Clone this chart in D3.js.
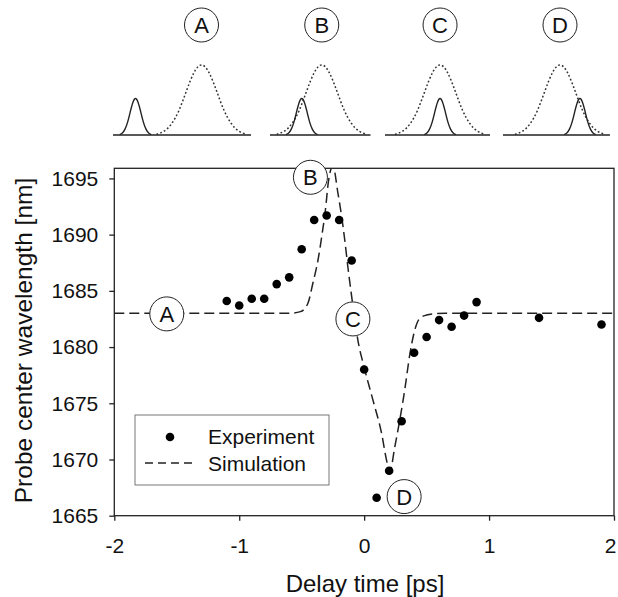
<!DOCTYPE html>
<html>
<head>
<meta charset="utf-8">
<script src="https://cdn.jsdelivr.net/npm/d3@7/dist/d3.min.js"></script>
<style>
  body { margin: 0; background: #fff; }
  text { font-family: Arial, "Liberation Sans", sans-serif; fill: #111; }
</style>
</head>
<body>
<div id="chart"></div>
<script>
// Experiment: probe centre wavelength vs delay
const expDelay = [-1.1, -1.0, -0.9, -0.8, -0.7, -0.6, -0.5, -0.4, -0.3, -0.2, -0.1,
  0.0, 0.1, 0.2, 0.3, 0.4, 0.5, 0.6, 0.7, 0.8, 0.9, 1.4, 1.9];
const expWavelength = [1684.1, 1683.7, 1684.3, 1684.3, 1685.6, 1686.2, 1688.7, 1691.3, 1691.7, 1691.3, 1687.7,
  1678.0, 1666.6, 1669.0, 1673.4, 1679.5, 1680.9, 1682.4, 1681.8, 1682.8, 1684.0, 1682.6, 1682.0];

// Simulation curve
const simDelay = [-2.0, -0.6, -0.51, -0.45, -0.41, -0.37, -0.34, -0.31, -0.285, -0.25, -0.21, -0.18,
  -0.155, -0.13, -0.10, -0.05, 0.0, 0.07, 0.14, 0.18, 0.205, 0.245, 0.285, 0.325, 0.365, 0.405,
  0.445, 0.5, 0.55, 0.65, 2.0];
const simWavelength = [1683.0, 1683.0, 1683.15, 1683.9, 1685.7, 1687.7, 1689.8, 1692.2, 1694.8, 1696.1, 1693.7, 1691.6,
  1689.5, 1687.1, 1684.5, 1680.6, 1678.2, 1675.3, 1672.3, 1669.9, 1668.9, 1671.1, 1673.5, 1676.2, 1679.3, 1681.5,
  1682.55, 1682.85, 1682.95, 1683.0, 1683.0];

// Circled markers on the curve
const markerLabels = ["A", "B", "C", "D"];
const markerDelay = [-1.58, -0.43, -0.09, 0.32];
const markerWavelength = [1682.95, 1695.1, 1682.5, 1666.7];

const xTicks = [-2, -1, 0, 1, 2];
const yTicks = [1665, 1670, 1675, 1680, 1685, 1690, 1695];

// Insets: probe (solid) position relative to pump (dotted), in pump widths
const probeOffset = [-4.4, -1.33, 0, 1.33];
const insetStart = [-5.9, -3.45, -3.67, -3.8];
const insetEnd = [3.3, 3.25, 3.33, 3.33];
// pulse shape as drawn (offset in widths, relative height)
const pulseOffset = [-3, -2.5, -2, -1.5, -1, -0.5, 0, 0.5, 1, 1.5, 2, 2.5, 3];
const pulseHeight = [0.01, 0.04, 0.14, 0.32, 0.61, 0.88, 1, 0.88, 0.61, 0.32, 0.14, 0.04, 0.01];

const W = 618, H = 597;
const svg = d3.select("#chart").append("svg").attr("width", W).attr("height", H);

// ---------- main plot ----------
const plot = { left: 114.3, right: 614, top: 168.3, bottom: 515.7 };
const x = d3.scaleLinear().domain([-2, 2]).range([plot.left, plot.right]);
const y = d3.scaleLinear().domain([1665, 1695.9]).range([plot.bottom, plot.top]);

svg.append("defs").append("clipPath").attr("id", "clip")
  .append("rect")
  .attr("x", plot.left).attr("y", plot.top)
  .attr("width", plot.right - plot.left).attr("height", plot.bottom - plot.top);

// frame
svg.append("rect")
  .attr("x", plot.left).attr("y", plot.top)
  .attr("width", plot.right - plot.left).attr("height", plot.bottom - plot.top)
  .attr("fill", "none").attr("stroke", "#222").attr("stroke-width", 1.3);

const xAxis = svg.append("g")
  .attr("transform", `translate(0,${plot.bottom})`)
  .call(d3.axisBottom(x).tickValues(xTicks).tickSize(5).tickPadding(17).tickFormat(d3.format("d")));
const yAxis = svg.append("g")
  .attr("transform", `translate(${plot.left},0)`)
  .call(d3.axisLeft(y).tickValues(yTicks).tickSize(5).tickPadding(11).tickFormat(d3.format("d")));
[xAxis, yAxis].forEach(g => {
  g.select(".domain").remove();
  g.selectAll("line").attr("stroke", "#222").attr("stroke-width", 1.3);
  g.selectAll("text").style("font-size", "21px").attr("fill", "#111");
});
xAxis.selectAll("text").text(d => d < 0 ? "-" + Math.abs(d) : d);
// last label sits on the page edge; nudge it in so it stays whole
xAxis.selectAll("text").filter(d => d === 2).attr("dx", -4);

svg.append("text")
  .attr("x", 365).attr("y", 592)
  .attr("text-anchor", "middle")
  .style("font-size", "24px")
  .text("Delay time [ps]");
svg.append("text")
  .attr("transform", "translate(32,340.5) rotate(-90)")
  .attr("text-anchor", "middle")
  .style("font-size", "24.5px")
  .text("Probe center wavelength [nm]");

// simulation
const simLine = d3.line().x(d => x(d[0])).y(d => y(d[1])).curve(d3.curveMonotoneX);
svg.append("path")
  .datum(d3.zip(simDelay, simWavelength))
  .attr("clip-path", "url(#clip)")
  .attr("fill", "none").attr("stroke", "#222")
  .attr("stroke-width", 1.5).attr("stroke-dasharray", "10,5")
  .attr("d", simLine);

// experiment
svg.append("g").selectAll("circle")
  .data(d3.zip(expDelay, expWavelength))
  .join("circle")
  .attr("cx", d => x(d[0])).attr("cy", d => y(d[1]))
  .attr("r", 4.3).attr("fill", "#000");

// circled markers
const markers = svg.append("g").selectAll("g")
  .data(markerLabels.map((l, i) => ({ label: l, t: markerDelay[i], w: markerWavelength[i] })))
  .join("g")
  .attr("transform", d => `translate(${x(d.t)},${y(d.w)})`);
markers.append("circle").attr("r", 17).attr("fill", "#fff").attr("stroke", "#222").attr("stroke-width", 1);
markers.append("text").attr("text-anchor", "middle").attr("dy", "0.36em")
  .style("font-size", "22px").text(d => d.label);

// legend
const legend = svg.append("g").attr("transform", "translate(135,415)");
legend.append("rect").attr("width", 194).attr("height", 70)
  .attr("fill", "#fff").attr("stroke", "#777").attr("stroke-width", 1);
legend.append("circle").attr("cx", 35).attr("cy", 22).attr("r", 4.3).attr("fill", "#000");
legend.append("text").attr("x", 73).attr("y", 29).style("font-size", "21px").text("Experiment");
legend.append("line").attr("x1", 10).attr("x2", 60).attr("y1", 48).attr("y2", 48)
  .attr("stroke", "#222").attr("stroke-width", 1.5).attr("stroke-dasharray", "8,5");
legend.append("text").attr("x", 73).attr("y", 56).style("font-size", "21px").text("Simulation");

// ---------- insets ----------
const insetX0 = [113, 270, 385, 503];
const insetPxPerUnit = 15, insetBase = 135;
const pumpAmp = 73, probeAmp = 38, probeWidth = 0.35;

markerLabels.forEach((label, i) => {
  const xs = d3.scaleLinear().domain([insetStart[i], insetEnd[i]])
    .range([insetX0[i], insetX0[i] + (insetEnd[i] - insetStart[i]) * insetPxPerUnit]);
  const g = svg.append("g");
  const pulse = (center, width, amp) => d3.line()
    .x((d, k) => xs(center + pulseOffset[k] * width))
    .y((d, k) => insetBase - pulseHeight[k] * amp)
    .curve(d3.curveBasis)(pulseOffset);

  g.append("path").attr("d", pulse(0, 1, pumpAmp))
    .attr("fill", "none").attr("stroke", "#333").attr("stroke-width", 1.5).attr("stroke-dasharray", "1.8,2.2");
  g.append("path").attr("d", pulse(probeOffset[i], probeWidth, probeAmp))
    .attr("fill", "none").attr("stroke", "#222").attr("stroke-width", 1.4);
  g.append("line").attr("x1", xs.range()[0]).attr("x2", xs.range()[1])
    .attr("y1", insetBase).attr("y2", insetBase).attr("stroke", "#222").attr("stroke-width", 1.5);

  const lab = g.append("g").attr("transform", `translate(${xs(0)},25)`);
  lab.append("circle").attr("r", 17).attr("fill", "#fff").attr("stroke", "#222").attr("stroke-width", 1);
  lab.append("text").attr("text-anchor", "middle").attr("dy", "0.36em").style("font-size", "22px").text(label);
});
</script>
</body>
</html>
